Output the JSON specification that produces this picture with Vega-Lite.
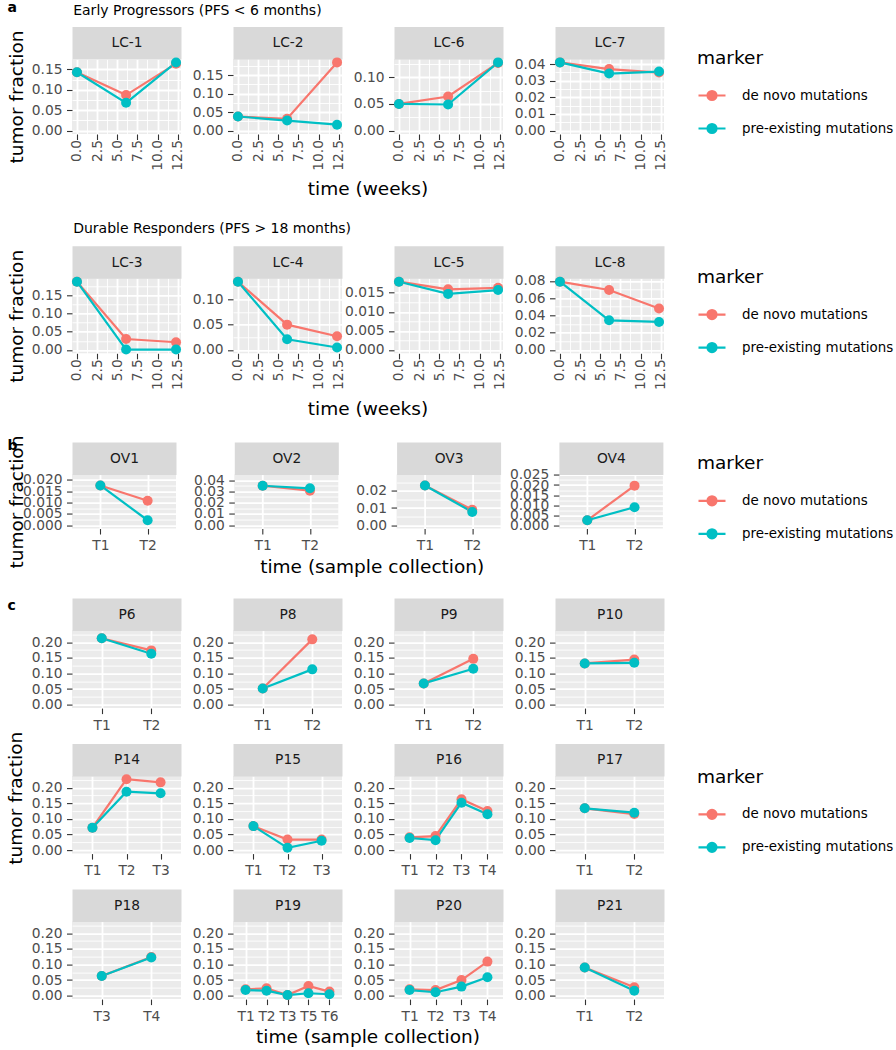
{
  "$schema": "https://vega.github.io/schema/vega-lite/v6.json",
  "padding": {"left": 7, "top": 0, "right": 2, "bottom": 0},
  "spacing": 22.3,
  "datasets": {
    "tf": [
      {"panel": "LC-1", "week": 0, "marker": "de novo mutations", "tf": 0.143},
      {"panel": "LC-1", "week": 6.1, "marker": "de novo mutations", "tf": 0.087},
      {"panel": "LC-1", "week": 12.3, "marker": "de novo mutations", "tf": 0.164},
      {"panel": "LC-1", "week": 0, "marker": "pre-existing mutations", "tf": 0.143},
      {"panel": "LC-1", "week": 6.1, "marker": "pre-existing mutations", "tf": 0.068},
      {"panel": "LC-1", "week": 12.3, "marker": "pre-existing mutations", "tf": 0.167},
      {"panel": "LC-2", "week": 0, "marker": "de novo mutations", "tf": 0.038},
      {"panel": "LC-2", "week": 6.1, "marker": "de novo mutations", "tf": 0.032},
      {"panel": "LC-2", "week": 12.3, "marker": "de novo mutations", "tf": 0.184},
      {"panel": "LC-2", "week": 0, "marker": "pre-existing mutations", "tf": 0.038},
      {"panel": "LC-2", "week": 6.1, "marker": "pre-existing mutations", "tf": 0.027},
      {"panel": "LC-2", "week": 12.3, "marker": "pre-existing mutations", "tf": 0.016},
      {"panel": "LC-6", "week": 0, "marker": "de novo mutations", "tf": 0.05},
      {"panel": "LC-6", "week": 6.1, "marker": "de novo mutations", "tf": 0.064},
      {"panel": "LC-6", "week": 12.3, "marker": "de novo mutations", "tf": 0.127},
      {"panel": "LC-6", "week": 0, "marker": "pre-existing mutations", "tf": 0.05},
      {"panel": "LC-6", "week": 6.1, "marker": "pre-existing mutations", "tf": 0.049},
      {"panel": "LC-6", "week": 12.3, "marker": "pre-existing mutations", "tf": 0.128},
      {"panel": "LC-7", "week": 0, "marker": "de novo mutations", "tf": 0.041},
      {"panel": "LC-7", "week": 6.1, "marker": "de novo mutations", "tf": 0.037},
      {"panel": "LC-7", "week": 12.3, "marker": "de novo mutations", "tf": 0.0349},
      {"panel": "LC-7", "week": 0, "marker": "pre-existing mutations", "tf": 0.041},
      {"panel": "LC-7", "week": 6.1, "marker": "pre-existing mutations", "tf": 0.0343},
      {"panel": "LC-7", "week": 12.3, "marker": "pre-existing mutations", "tf": 0.0355},
      {"panel": "LC-3", "week": 0, "marker": "de novo mutations", "tf": 0.188},
      {"panel": "LC-3", "week": 6.1, "marker": "de novo mutations", "tf": 0.03},
      {"panel": "LC-3", "week": 12.3, "marker": "de novo mutations", "tf": 0.021},
      {"panel": "LC-3", "week": 0, "marker": "pre-existing mutations", "tf": 0.188},
      {"panel": "LC-3", "week": 6.1, "marker": "pre-existing mutations", "tf": 0.001},
      {"panel": "LC-3", "week": 12.3, "marker": "pre-existing mutations", "tf": 0.001},
      {"panel": "LC-4", "week": 0, "marker": "de novo mutations", "tf": 0.135},
      {"panel": "LC-4", "week": 6.1, "marker": "de novo mutations", "tf": 0.05},
      {"panel": "LC-4", "week": 12.3, "marker": "de novo mutations", "tf": 0.027},
      {"panel": "LC-4", "week": 0, "marker": "pre-existing mutations", "tf": 0.135},
      {"panel": "LC-4", "week": 6.1, "marker": "pre-existing mutations", "tf": 0.021},
      {"panel": "LC-4", "week": 12.3, "marker": "pre-existing mutations", "tf": 0.0047},
      {"panel": "LC-5", "week": 0, "marker": "de novo mutations", "tf": 0.0179},
      {"panel": "LC-5", "week": 6.1, "marker": "de novo mutations", "tf": 0.0159},
      {"panel": "LC-5", "week": 12.3, "marker": "de novo mutations", "tf": 0.0163},
      {"panel": "LC-5", "week": 0, "marker": "pre-existing mutations", "tf": 0.0179},
      {"panel": "LC-5", "week": 6.1, "marker": "pre-existing mutations", "tf": 0.0147},
      {"panel": "LC-5", "week": 12.3, "marker": "pre-existing mutations", "tf": 0.0157},
      {"panel": "LC-8", "week": 0, "marker": "de novo mutations", "tf": 0.079},
      {"panel": "LC-8", "week": 6.1, "marker": "de novo mutations", "tf": 0.0694},
      {"panel": "LC-8", "week": 12.3, "marker": "de novo mutations", "tf": 0.048},
      {"panel": "LC-8", "week": 0, "marker": "pre-existing mutations", "tf": 0.079},
      {"panel": "LC-8", "week": 6.1, "marker": "pre-existing mutations", "tf": 0.0343},
      {"panel": "LC-8", "week": 12.3, "marker": "pre-existing mutations", "tf": 0.0324},
      {"panel": "OV1", "sample": "T1", "marker": "de novo mutations", "tf": 0.0175},
      {"panel": "OV1", "sample": "T2", "marker": "de novo mutations", "tf": 0.0108},
      {"panel": "OV1", "sample": "T1", "marker": "pre-existing mutations", "tf": 0.0175},
      {"panel": "OV1", "sample": "T2", "marker": "pre-existing mutations", "tf": 0.0022},
      {"panel": "OV2", "sample": "T1", "marker": "de novo mutations", "tf": 0.035},
      {"panel": "OV2", "sample": "T2", "marker": "de novo mutations", "tf": 0.0306},
      {"panel": "OV2", "sample": "T1", "marker": "pre-existing mutations", "tf": 0.035},
      {"panel": "OV2", "sample": "T2", "marker": "pre-existing mutations", "tf": 0.0327},
      {"panel": "OV3", "sample": "T1", "marker": "de novo mutations", "tf": 0.0231},
      {"panel": "OV3", "sample": "T2", "marker": "de novo mutations", "tf": 0.009},
      {"panel": "OV3", "sample": "T1", "marker": "pre-existing mutations", "tf": 0.0231},
      {"panel": "OV3", "sample": "T2", "marker": "pre-existing mutations", "tf": 0.0077},
      {"panel": "OV4", "sample": "T1", "marker": "de novo mutations", "tf": 0.0025},
      {"panel": "OV4", "sample": "T2", "marker": "de novo mutations", "tf": 0.0197},
      {"panel": "OV4", "sample": "T1", "marker": "pre-existing mutations", "tf": 0.0025},
      {"panel": "OV4", "sample": "T2", "marker": "pre-existing mutations", "tf": 0.009},
      {"panel": "P6", "sample": "T1", "marker": "de novo mutations", "tf": 0.2125},
      {"panel": "P6", "sample": "T2", "marker": "de novo mutations", "tf": 0.1737},
      {"panel": "P6", "sample": "T1", "marker": "pre-existing mutations", "tf": 0.2125},
      {"panel": "P6", "sample": "T2", "marker": "pre-existing mutations", "tf": 0.163},
      {"panel": "P8", "sample": "T1", "marker": "de novo mutations", "tf": 0.052},
      {"panel": "P8", "sample": "T2", "marker": "de novo mutations", "tf": 0.209},
      {"panel": "P8", "sample": "T1", "marker": "pre-existing mutations", "tf": 0.052},
      {"panel": "P8", "sample": "T2", "marker": "pre-existing mutations", "tf": 0.113},
      {"panel": "P9", "sample": "T1", "marker": "de novo mutations", "tf": 0.068},
      {"panel": "P9", "sample": "T2", "marker": "de novo mutations", "tf": 0.1466},
      {"panel": "P9", "sample": "T1", "marker": "pre-existing mutations", "tf": 0.068},
      {"panel": "P9", "sample": "T2", "marker": "pre-existing mutations", "tf": 0.115},
      {"panel": "P10", "sample": "T1", "marker": "de novo mutations", "tf": 0.132},
      {"panel": "P10", "sample": "T2", "marker": "de novo mutations", "tf": 0.1444},
      {"panel": "P10", "sample": "T1", "marker": "pre-existing mutations", "tf": 0.132},
      {"panel": "P10", "sample": "T2", "marker": "pre-existing mutations", "tf": 0.134},
      {"panel": "P14", "sample": "T1", "marker": "de novo mutations", "tf": 0.0717},
      {"panel": "P14", "sample": "T2", "marker": "de novo mutations", "tf": 0.227},
      {"panel": "P14", "sample": "T3", "marker": "de novo mutations", "tf": 0.217},
      {"panel": "P14", "sample": "T1", "marker": "pre-existing mutations", "tf": 0.0717},
      {"panel": "P14", "sample": "T2", "marker": "pre-existing mutations", "tf": 0.187},
      {"panel": "P14", "sample": "T3", "marker": "pre-existing mutations", "tf": 0.182},
      {"panel": "P15", "sample": "T1", "marker": "de novo mutations", "tf": 0.077},
      {"panel": "P15", "sample": "T2", "marker": "de novo mutations", "tf": 0.034},
      {"panel": "P15", "sample": "T3", "marker": "de novo mutations", "tf": 0.034},
      {"panel": "P15", "sample": "T1", "marker": "pre-existing mutations", "tf": 0.077},
      {"panel": "P15", "sample": "T2", "marker": "pre-existing mutations", "tf": 0.0075},
      {"panel": "P15", "sample": "T3", "marker": "pre-existing mutations", "tf": 0.03},
      {"panel": "P16", "sample": "T1", "marker": "de novo mutations", "tf": 0.041},
      {"panel": "P16", "sample": "T2", "marker": "de novo mutations", "tf": 0.045},
      {"panel": "P16", "sample": "T3", "marker": "de novo mutations", "tf": 0.163},
      {"panel": "P16", "sample": "T4", "marker": "de novo mutations", "tf": 0.125},
      {"panel": "P16", "sample": "T1", "marker": "pre-existing mutations", "tf": 0.039},
      {"panel": "P16", "sample": "T2", "marker": "pre-existing mutations", "tf": 0.032},
      {"panel": "P16", "sample": "T3", "marker": "pre-existing mutations", "tf": 0.152},
      {"panel": "P16", "sample": "T4", "marker": "pre-existing mutations", "tf": 0.115},
      {"panel": "P17", "sample": "T1", "marker": "de novo mutations", "tf": 0.134},
      {"panel": "P17", "sample": "T2", "marker": "de novo mutations", "tf": 0.1156},
      {"panel": "P17", "sample": "T1", "marker": "pre-existing mutations", "tf": 0.134},
      {"panel": "P17", "sample": "T2", "marker": "pre-existing mutations", "tf": 0.12},
      {"panel": "P18", "sample": "T3", "marker": "de novo mutations", "tf": 0.063},
      {"panel": "P18", "sample": "T4", "marker": "de novo mutations", "tf": 0.124},
      {"panel": "P18", "sample": "T3", "marker": "pre-existing mutations", "tf": 0.063},
      {"panel": "P18", "sample": "T4", "marker": "pre-existing mutations", "tf": 0.122},
      {"panel": "P19", "sample": "T1", "marker": "de novo mutations", "tf": 0.0205},
      {"panel": "P19", "sample": "T2", "marker": "de novo mutations", "tf": 0.0237},
      {"panel": "P19", "sample": "T3", "marker": "de novo mutations", "tf": 0.002},
      {"panel": "P19", "sample": "T5", "marker": "de novo mutations", "tf": 0.031},
      {"panel": "P19", "sample": "T6", "marker": "de novo mutations", "tf": 0.013},
      {"panel": "P19", "sample": "T1", "marker": "pre-existing mutations", "tf": 0.018},
      {"panel": "P19", "sample": "T2", "marker": "pre-existing mutations", "tf": 0.016},
      {"panel": "P19", "sample": "T3", "marker": "pre-existing mutations", "tf": 0.002},
      {"panel": "P19", "sample": "T5", "marker": "pre-existing mutations", "tf": 0.0077},
      {"panel": "P19", "sample": "T6", "marker": "pre-existing mutations", "tf": 0.0045},
      {"panel": "P20", "sample": "T1", "marker": "de novo mutations", "tf": 0.0205},
      {"panel": "P20", "sample": "T2", "marker": "de novo mutations", "tf": 0.018},
      {"panel": "P20", "sample": "T3", "marker": "de novo mutations", "tf": 0.05},
      {"panel": "P20", "sample": "T4", "marker": "de novo mutations", "tf": 0.109},
      {"panel": "P20", "sample": "T1", "marker": "pre-existing mutations", "tf": 0.018},
      {"panel": "P20", "sample": "T2", "marker": "pre-existing mutations", "tf": 0.0109},
      {"panel": "P20", "sample": "T3", "marker": "pre-existing mutations", "tf": 0.029},
      {"panel": "P20", "sample": "T4", "marker": "pre-existing mutations", "tf": 0.059},
      {"panel": "P21", "sample": "T1", "marker": "de novo mutations", "tf": 0.09},
      {"panel": "P21", "sample": "T2", "marker": "de novo mutations", "tf": 0.027},
      {"panel": "P21", "sample": "T1", "marker": "pre-existing mutations", "tf": 0.09},
      {"panel": "P21", "sample": "T2", "marker": "pre-existing mutations", "tf": 0.016}
    ]
  },
  "vconcat": [
    {
      "hconcat": [
        {
          "width": 109, "height": 75, "data": {"name": "tf"},
          "transform": [{"filter": "datum.panel === 'LC-1'"}],
          "layer": [
            {"mark": {"type": "line", "strokeWidth": 2.2},
             "encoding": {
               "x": {"field": "week", "type": "quantitative", "scale": {"domain": [-0.615, 12.915], "nice": false, "zero": false}, "axis": {"values": [0, 2.5, 5, 7.5, 10, 12.5], "format": ".1f", "labelAngle": -90, "labelPadding": 0, "title": null}},
               "y": {"field": "tf", "type": "quantitative", "scale": {"domain": [-0.0084, 0.1754], "nice": false, "zero": false}, "axis": {"values": [0, 0.05, 0.1, 0.15], "format": ".2f", "title": "tumor fraction", "titleX": -50, "titleBaseline": "alphabetic"}},
               "color": {"field": "marker", "type": "nominal", "scale": {"domain": ["de novo mutations", "pre-existing mutations"], "range": ["#F8766D", "#00BFC4"]}, "legend": {"orient": "none", "legendX": 625, "legendY": -10}}}},
            {"mark": {"type": "point", "filled": true, "size": 100, "opacity": 1},
             "encoding": {
               "x": {"field": "week", "type": "quantitative", "axis": {"orient": "top", "values": [1.25, 3.75, 6.25, 8.75, 11.25], "grid": true, "gridWidth": 0.9, "labels": false, "ticks": false, "domain": true, "domainColor": "#D9D9D9", "domainWidth": 32.5, "domainCap": "butt", "offset": 16.25, "title": "LC-1", "titleFontSize": 13.8, "titleColor": "#1A1A1A", "titleBaseline": "middle", "titleY": 0}},
               "y": {"field": "tf", "type": "quantitative", "axis": {"orient": "right", "values": [0.025, 0.075, 0.125, 0.175], "grid": true, "gridWidth": 0.9, "labels": false, "ticks": false, "domain": false, "title": "Early Progressors (PFS < 6 months)", "titleAngle": 0, "titleAlign": "left", "titleBaseline": "middle", "titleX": -108.3, "titleY": -49, "titleFontSize": 14}},
               "color": {"field": "marker", "type": "nominal"}}}
          ],
          "resolve": {"axis": {"x": "independent", "y": "independent"}}
        },
        {
          "width": 109, "height": 75, "data": {"name": "tf"},
          "transform": [{"filter": "datum.panel === 'LC-2'"}],
          "layer": [
            {"mark": {"type": "line", "strokeWidth": 2.2},
             "encoding": {
               "x": {"field": "week", "type": "quantitative", "scale": {"domain": [-0.615, 12.915], "nice": false, "zero": false}, "axis": {"values": [0, 2.5, 5, 7.5, 10, 12.5], "format": ".1f", "labelAngle": -90, "labelPadding": 0, "title": "time (weeks)", "titleX": 134.5, "titlePadding": 9.5}},
               "y": {"field": "tf", "type": "quantitative", "scale": {"domain": [-0.0092, 0.1932], "nice": false, "zero": false}, "axis": {"values": [0, 0.05, 0.1, 0.15], "format": ".2f", "title": null}},
               "color": {"field": "marker", "type": "nominal", "scale": {"domain": ["de novo mutations", "pre-existing mutations"], "range": ["#F8766D", "#00BFC4"]}}}},
            {"mark": {"type": "point", "filled": true, "size": 100, "opacity": 1},
             "encoding": {
               "x": {"field": "week", "type": "quantitative", "axis": {"orient": "top", "values": [1.25, 3.75, 6.25, 8.75, 11.25], "grid": true, "gridWidth": 0.9, "labels": false, "ticks": false, "domain": true, "domainColor": "#D9D9D9", "domainWidth": 32.5, "domainCap": "butt", "offset": 16.25, "title": "LC-2", "titleFontSize": 13.8, "titleColor": "#1A1A1A", "titleBaseline": "middle", "titleY": 0}},
               "y": {"field": "tf", "type": "quantitative", "axis": {"orient": "right", "values": [0.025, 0.075, 0.125, 0.175], "grid": true, "gridWidth": 0.9, "labels": false, "ticks": false, "domain": false, "title": "a", "titleAngle": 0, "titleAlign": "left", "titleBaseline": "alphabetic", "titleX": -335, "titleY": -48, "titleFontSize": 14, "titleFontWeight": "bold"}},
               "color": {"field": "marker", "type": "nominal"}}}
          ],
          "resolve": {"axis": {"x": "independent", "y": "independent"}}
        },
        {
          "width": 109, "height": 75, "data": {"name": "tf"},
          "transform": [{"filter": "datum.panel === 'LC-6'"}],
          "layer": [
            {"mark": {"type": "line", "strokeWidth": 2.2},
             "encoding": {
               "x": {"field": "week", "type": "quantitative", "scale": {"domain": [-0.615, 12.915], "nice": false, "zero": false}, "axis": {"values": [0, 2.5, 5, 7.5, 10, 12.5], "format": ".1f", "labelAngle": -90, "labelPadding": 0, "title": null}},
               "y": {"field": "tf", "type": "quantitative", "scale": {"domain": [-0.0064, 0.1344], "nice": false, "zero": false}, "axis": {"values": [0, 0.05, 0.1], "format": ".2f", "title": null}},
               "color": {"field": "marker", "type": "nominal", "scale": {"domain": ["de novo mutations", "pre-existing mutations"], "range": ["#F8766D", "#00BFC4"]}}}},
            {"mark": {"type": "point", "filled": true, "size": 100, "opacity": 1},
             "encoding": {
               "x": {"field": "week", "type": "quantitative", "axis": {"orient": "top", "values": [1.25, 3.75, 6.25, 8.75, 11.25], "grid": true, "gridWidth": 0.9, "labels": false, "ticks": false, "domain": true, "domainColor": "#D9D9D9", "domainWidth": 32.5, "domainCap": "butt", "offset": 16.25, "title": "LC-6", "titleFontSize": 13.8, "titleColor": "#1A1A1A", "titleBaseline": "middle", "titleY": 0}},
               "y": {"field": "tf", "type": "quantitative", "axis": {"orient": "right", "values": [0.025, 0.075, 0.125], "grid": true, "gridWidth": 0.9, "labels": false, "ticks": false, "domain": false, "title": null}},
               "color": {"field": "marker", "type": "nominal"}}}
          ],
          "resolve": {"axis": {"x": "independent", "y": "independent"}}
        },
        {
          "width": 109, "height": 75, "data": {"name": "tf"},
          "transform": [{"filter": "datum.panel === 'LC-7'"}],
          "layer": [
            {"mark": {"type": "line", "strokeWidth": 2.2},
             "encoding": {
               "x": {"field": "week", "type": "quantitative", "scale": {"domain": [-0.615, 12.915], "nice": false, "zero": false}, "axis": {"values": [0, 2.5, 5, 7.5, 10, 12.5], "format": ".1f", "labelAngle": -90, "labelPadding": 0, "title": null}},
               "y": {"field": "tf", "type": "quantitative", "scale": {"domain": [-0.00205, 0.04305], "nice": false, "zero": false}, "axis": {"values": [0, 0.01, 0.02, 0.03, 0.04], "format": ".2f", "title": null}},
               "color": {"field": "marker", "type": "nominal", "scale": {"domain": ["de novo mutations", "pre-existing mutations"], "range": ["#F8766D", "#00BFC4"]}}}},
            {"mark": {"type": "point", "filled": true, "size": 100, "opacity": 1},
             "encoding": {
               "x": {"field": "week", "type": "quantitative", "axis": {"orient": "top", "values": [1.25, 3.75, 6.25, 8.75, 11.25], "grid": true, "gridWidth": 0.9, "labels": false, "ticks": false, "domain": true, "domainColor": "#D9D9D9", "domainWidth": 32.5, "domainCap": "butt", "offset": 16.25, "title": "LC-7", "titleFontSize": 13.8, "titleColor": "#1A1A1A", "titleBaseline": "middle", "titleY": 0}},
               "y": {"field": "tf", "type": "quantitative", "axis": {"orient": "right", "values": [0.005, 0.015, 0.025, 0.035], "grid": true, "gridWidth": 0.9, "labels": false, "ticks": false, "domain": false, "title": null}},
               "color": {"field": "marker", "type": "nominal"}}}
          ],
          "resolve": {"axis": {"x": "independent", "y": "independent"}}
        }
      ],
      "spacing": 52, "bounds": "flush",
      "resolve": {"scale": {"x": "independent", "y": "independent"}}
    },
    {
      "vconcat": [
        {
          "hconcat": [
            {
              "width": 109, "height": 75, "data": {"name": "tf"},
              "transform": [{"filter": "datum.panel === 'LC-3'"}],
              "layer": [
                {"mark": {"type": "line", "strokeWidth": 2.2},
                 "encoding": {
                   "x": {"field": "week", "type": "quantitative", "scale": {"domain": [-0.615, 12.915], "nice": false, "zero": false}, "axis": {"values": [0, 2.5, 5, 7.5, 10, 12.5], "format": ".1f", "labelAngle": -90, "labelPadding": 0, "title": null}},
                   "y": {"field": "tf", "type": "quantitative", "scale": {"domain": [-0.0094, 0.1974], "nice": false, "zero": false}, "axis": {"values": [0, 0.05, 0.1, 0.15], "format": ".2f", "title": "tumor fraction", "titleX": -50, "titleBaseline": "alphabetic"}},
                   "color": {"field": "marker", "type": "nominal", "scale": {"domain": ["de novo mutations", "pre-existing mutations"], "range": ["#F8766D", "#00BFC4"]}, "legend": {"orient": "none", "legendX": 625, "legendY": -10.25}}}},
                {"mark": {"type": "point", "filled": true, "size": 100, "opacity": 1},
                 "encoding": {
                   "x": {"field": "week", "type": "quantitative", "axis": {"orient": "top", "values": [1.25, 3.75, 6.25, 8.75, 11.25], "grid": true, "gridWidth": 0.9, "labels": false, "ticks": false, "domain": true, "domainColor": "#D9D9D9", "domainWidth": 32.5, "domainCap": "butt", "offset": 16.25, "title": "LC-3", "titleFontSize": 13.8, "titleColor": "#1A1A1A", "titleBaseline": "middle", "titleY": 0}},
                   "y": {"field": "tf", "type": "quantitative", "axis": {"orient": "right", "values": [0.025, 0.075, 0.125, 0.175], "grid": true, "gridWidth": 0.9, "labels": false, "ticks": false, "domain": false, "title": "Durable Responders (PFS > 18 months)", "titleAngle": 0, "titleAlign": "left", "titleBaseline": "middle", "titleX": -108.3, "titleY": -50, "titleFontSize": 14}},
                   "color": {"field": "marker", "type": "nominal"}}}
              ],
              "resolve": {"axis": {"x": "independent", "y": "independent"}}
            },
            {
              "width": 109, "height": 75, "data": {"name": "tf"},
              "transform": [{"filter": "datum.panel === 'LC-4'"}],
              "layer": [
                {"mark": {"type": "line", "strokeWidth": 2.2},
                 "encoding": {
                   "x": {"field": "week", "type": "quantitative", "scale": {"domain": [-0.615, 12.915], "nice": false, "zero": false}, "axis": {"values": [0, 2.5, 5, 7.5, 10, 12.5], "format": ".1f", "labelAngle": -90, "labelPadding": 0, "title": "time (weeks)", "titleX": 134.5, "titlePadding": 9.5}},
                   "y": {"field": "tf", "type": "quantitative", "scale": {"domain": [-0.00675, 0.14175], "nice": false, "zero": false}, "axis": {"values": [0, 0.05, 0.1], "format": ".2f", "title": null}},
                   "color": {"field": "marker", "type": "nominal", "scale": {"domain": ["de novo mutations", "pre-existing mutations"], "range": ["#F8766D", "#00BFC4"]}}}},
                {"mark": {"type": "point", "filled": true, "size": 100, "opacity": 1},
                 "encoding": {
                   "x": {"field": "week", "type": "quantitative", "axis": {"orient": "top", "values": [1.25, 3.75, 6.25, 8.75, 11.25], "grid": true, "gridWidth": 0.9, "labels": false, "ticks": false, "domain": true, "domainColor": "#D9D9D9", "domainWidth": 32.5, "domainCap": "butt", "offset": 16.25, "title": "LC-4", "titleFontSize": 13.8, "titleColor": "#1A1A1A", "titleBaseline": "middle", "titleY": 0}},
                   "y": {"field": "tf", "type": "quantitative", "axis": {"orient": "right", "values": [0.025, 0.075, 0.125], "grid": true, "gridWidth": 0.9, "labels": false, "ticks": false, "domain": false, "title": null}},
                   "color": {"field": "marker", "type": "nominal"}}}
              ],
              "resolve": {"axis": {"x": "independent", "y": "independent"}}
            },
            {
              "width": 109, "height": 75, "data": {"name": "tf"},
              "transform": [{"filter": "datum.panel === 'LC-5'"}],
              "layer": [
                {"mark": {"type": "line", "strokeWidth": 2.2},
                 "encoding": {
                   "x": {"field": "week", "type": "quantitative", "scale": {"domain": [-0.615, 12.915], "nice": false, "zero": false}, "axis": {"values": [0, 2.5, 5, 7.5, 10, 12.5], "format": ".1f", "labelAngle": -90, "labelPadding": 0, "title": null}},
                   "y": {"field": "tf", "type": "quantitative", "scale": {"domain": [-0.000895, 0.018795], "nice": false, "zero": false}, "axis": {"values": [0, 0.005, 0.01, 0.015], "format": ".3f", "title": null}},
                   "color": {"field": "marker", "type": "nominal", "scale": {"domain": ["de novo mutations", "pre-existing mutations"], "range": ["#F8766D", "#00BFC4"]}}}},
                {"mark": {"type": "point", "filled": true, "size": 100, "opacity": 1},
                 "encoding": {
                   "x": {"field": "week", "type": "quantitative", "axis": {"orient": "top", "values": [1.25, 3.75, 6.25, 8.75, 11.25], "grid": true, "gridWidth": 0.9, "labels": false, "ticks": false, "domain": true, "domainColor": "#D9D9D9", "domainWidth": 32.5, "domainCap": "butt", "offset": 16.25, "title": "LC-5", "titleFontSize": 13.8, "titleColor": "#1A1A1A", "titleBaseline": "middle", "titleY": 0}},
                   "y": {"field": "tf", "type": "quantitative", "axis": {"orient": "right", "values": [0.0025, 0.0075, 0.0125, 0.0175], "grid": true, "gridWidth": 0.9, "labels": false, "ticks": false, "domain": false, "title": null}},
                   "color": {"field": "marker", "type": "nominal"}}}
              ],
              "resolve": {"axis": {"x": "independent", "y": "independent"}}
            },
            {
              "width": 109, "height": 75, "data": {"name": "tf"},
              "transform": [{"filter": "datum.panel === 'LC-8'"}],
              "layer": [
                {"mark": {"type": "line", "strokeWidth": 2.2},
                 "encoding": {
                   "x": {"field": "week", "type": "quantitative", "scale": {"domain": [-0.615, 12.915], "nice": false, "zero": false}, "axis": {"values": [0, 2.5, 5, 7.5, 10, 12.5], "format": ".1f", "labelAngle": -90, "labelPadding": 0, "title": null}},
                   "y": {"field": "tf", "type": "quantitative", "scale": {"domain": [-0.00395, 0.08295], "nice": false, "zero": false}, "axis": {"values": [0, 0.02, 0.04, 0.06, 0.08], "format": ".2f", "title": null}},
                   "color": {"field": "marker", "type": "nominal", "scale": {"domain": ["de novo mutations", "pre-existing mutations"], "range": ["#F8766D", "#00BFC4"]}}}},
                {"mark": {"type": "point", "filled": true, "size": 100, "opacity": 1},
                 "encoding": {
                   "x": {"field": "week", "type": "quantitative", "axis": {"orient": "top", "values": [1.25, 3.75, 6.25, 8.75, 11.25], "grid": true, "gridWidth": 0.9, "labels": false, "ticks": false, "domain": true, "domainColor": "#D9D9D9", "domainWidth": 32.5, "domainCap": "butt", "offset": 16.25, "title": "LC-8", "titleFontSize": 13.8, "titleColor": "#1A1A1A", "titleBaseline": "middle", "titleY": 0}},
                   "y": {"field": "tf", "type": "quantitative", "axis": {"orient": "right", "values": [0.01, 0.03, 0.05, 0.07], "grid": true, "gridWidth": 0.9, "labels": false, "ticks": false, "domain": false, "title": null}},
                   "color": {"field": "marker", "type": "nominal"}}}
              ],
              "resolve": {"axis": {"x": "independent", "y": "independent"}}
            }
          ],
          "spacing": 52, "bounds": "flush",
          "resolve": {"scale": {"x": "independent", "y": "independent"}}
        },
        {
          "hconcat": [
            {
              "width": 104, "height": 54, "data": {"name": "tf"},
              "transform": [{"filter": "datum.panel === 'OV1'"}],
              "layer": [
                {"mark": {"type": "line", "strokeWidth": 2.2},
                 "encoding": {
                   "x": {"field": "sample", "type": "nominal", "scale": {"type": "point", "padding": 0.6}, "axis": {"labelAngle": 0, "title": null}},
                   "y": {"field": "tf", "type": "quantitative", "scale": {"domain": [-0.00145, 0.0223], "nice": false, "zero": false}, "axis": {"values": [0, 0.005, 0.01, 0.015, 0.02], "format": ".3f", "title": "tumor fraction", "titleX": -50, "titleBaseline": "alphabetic"}},
                   "color": {"field": "marker", "type": "nominal", "scale": {"domain": ["de novo mutations", "pre-existing mutations"], "range": ["#F8766D", "#00BFC4"]}, "legend": {"orient": "none", "legendX": 625, "legendY": -20.25}}}},
                {"mark": {"type": "point", "filled": true, "size": 100, "opacity": 1},
                 "encoding": {
                   "x": {"field": "sample", "type": "nominal", "axis": {"orient": "top", "grid": false, "labels": false, "ticks": false, "domain": true, "domainColor": "#D9D9D9", "domainWidth": 32.5, "domainCap": "butt", "offset": 16.25, "title": "OV1", "titleFontSize": 13.8, "titleColor": "#1A1A1A", "titleBaseline": "middle", "titleY": 0}},
                   "y": {"field": "tf", "type": "quantitative", "axis": {"orient": "right", "values": [0.0025, 0.0075, 0.0125, 0.0175], "grid": true, "gridWidth": 0.9, "labels": false, "ticks": false, "domain": false, "title": "b", "titleAngle": 0, "titleAlign": "left", "titleBaseline": "alphabetic", "titleX": -169, "titleY": -25, "titleFontSize": 14, "titleFontWeight": "bold"}},
                   "color": {"field": "marker", "type": "nominal"}}}
              ],
              "resolve": {"axis": {"x": "independent", "y": "independent"}}
            },
            {
              "width": 104, "height": 54, "data": {"name": "tf"},
              "transform": [{"filter": "datum.panel === 'OV2'"}],
              "layer": [
                {"mark": {"type": "line", "strokeWidth": 2.2},
                 "encoding": {
                   "x": {"field": "sample", "type": "nominal", "scale": {"type": "point", "padding": 0.6}, "axis": {"labelAngle": 0, "title": "time (sample collection)", "titleX": 137.4}},
                   "y": {"field": "tf", "type": "quantitative", "scale": {"domain": [-0.0029, 0.0449], "nice": false, "zero": false}, "axis": {"values": [0, 0.01, 0.02, 0.03, 0.04], "format": ".2f", "title": null}},
                   "color": {"field": "marker", "type": "nominal", "scale": {"domain": ["de novo mutations", "pre-existing mutations"], "range": ["#F8766D", "#00BFC4"]}}}},
                {"mark": {"type": "point", "filled": true, "size": 100, "opacity": 1},
                 "encoding": {
                   "x": {"field": "sample", "type": "nominal", "axis": {"orient": "top", "grid": false, "labels": false, "ticks": false, "domain": true, "domainColor": "#D9D9D9", "domainWidth": 32.5, "domainCap": "butt", "offset": 16.25, "title": "OV2", "titleFontSize": 13.8, "titleColor": "#1A1A1A", "titleBaseline": "middle", "titleY": 0}},
                   "y": {"field": "tf", "type": "quantitative", "axis": {"orient": "right", "values": [0.005, 0.015, 0.025, 0.035], "grid": true, "gridWidth": 0.9, "labels": false, "ticks": false, "domain": false, "title": null}},
                   "color": {"field": "marker", "type": "nominal"}}}
              ],
              "resolve": {"axis": {"x": "independent", "y": "independent"}}
            },
            {
              "width": 104, "height": 54, "data": {"name": "tf"},
              "transform": [{"filter": "datum.panel === 'OV3'"}],
              "layer": [
                {"mark": {"type": "line", "strokeWidth": 2.2},
                 "encoding": {
                   "x": {"field": "sample", "type": "nominal", "scale": {"type": "point", "padding": 0.6}, "axis": {"labelAngle": 0, "title": null}},
                   "y": {"field": "tf", "type": "quantitative", "scale": {"domain": [-0.0019, 0.0294], "nice": false, "zero": false}, "axis": {"values": [0, 0.01, 0.02], "format": ".2f", "title": null}},
                   "color": {"field": "marker", "type": "nominal", "scale": {"domain": ["de novo mutations", "pre-existing mutations"], "range": ["#F8766D", "#00BFC4"]}}}},
                {"mark": {"type": "point", "filled": true, "size": 100, "opacity": 1},
                 "encoding": {
                   "x": {"field": "sample", "type": "nominal", "axis": {"orient": "top", "grid": false, "labels": false, "ticks": false, "domain": true, "domainColor": "#D9D9D9", "domainWidth": 32.5, "domainCap": "butt", "offset": 16.25, "title": "OV3", "titleFontSize": 13.8, "titleColor": "#1A1A1A", "titleBaseline": "middle", "titleY": 0}},
                   "y": {"field": "tf", "type": "quantitative", "axis": {"orient": "right", "values": [0.005, 0.015, 0.025], "grid": true, "gridWidth": 0.9, "labels": false, "ticks": false, "domain": false, "title": null}},
                   "color": {"field": "marker", "type": "nominal"}}}
              ],
              "resolve": {"axis": {"x": "independent", "y": "independent"}}
            },
            {
              "width": 104, "height": 54, "data": {"name": "tf"},
              "transform": [{"filter": "datum.panel === 'OV4'"}],
              "layer": [
                {"mark": {"type": "line", "strokeWidth": 2.2},
                 "encoding": {
                   "x": {"field": "sample", "type": "nominal", "scale": {"type": "point", "padding": 0.6}, "axis": {"labelAngle": 0, "title": null}},
                   "y": {"field": "tf", "type": "quantitative", "scale": {"domain": [-0.0016, 0.0252], "nice": false, "zero": false}, "axis": {"values": [0, 0.005, 0.01, 0.015, 0.02, 0.025], "format": ".3f", "title": null}},
                   "color": {"field": "marker", "type": "nominal", "scale": {"domain": ["de novo mutations", "pre-existing mutations"], "range": ["#F8766D", "#00BFC4"]}}}},
                {"mark": {"type": "point", "filled": true, "size": 100, "opacity": 1},
                 "encoding": {
                   "x": {"field": "sample", "type": "nominal", "axis": {"orient": "top", "grid": false, "labels": false, "ticks": false, "domain": true, "domainColor": "#D9D9D9", "domainWidth": 32.5, "domainCap": "butt", "offset": 16.25, "title": "OV4", "titleFontSize": 13.8, "titleColor": "#1A1A1A", "titleBaseline": "middle", "titleY": 0}},
                   "y": {"field": "tf", "type": "quantitative", "axis": {"orient": "right", "values": [0.0025, 0.0075, 0.0125, 0.0175, 0.0225], "grid": true, "gridWidth": 0.9, "labels": false, "ticks": false, "domain": false, "title": null}},
                   "color": {"field": "marker", "type": "nominal"}}}
              ],
              "resolve": {"axis": {"x": "independent", "y": "independent"}}
            }
          ],
          "spacing": 58.3, "bounds": "flush",
          "resolve": {"scale": {"x": "independent", "y": "independent"}}
        }
      ],
      "spacing": 16.25,
      "resolve": {"scale": {"x": "independent", "y": "independent", "color": "independent"}, "legend": {"color": "independent"}}
    },
    {
      "vconcat": [
        {
          "hconcat": [
            {
              "width": 109, "height": 77.5, "data": {"name": "tf"},
              "transform": [{"filter": "datum.panel === 'P6'"}],
              "layer": [
                {"mark": {"type": "line", "strokeWidth": 2.2},
                 "encoding": {
                   "x": {"field": "sample", "type": "nominal", "scale": {"type": "point", "padding": 0.6}, "axis": {"labelAngle": 0, "title": null}},
                   "y": {"field": "tf", "type": "quantitative", "scale": {"domain": [-0.011, 0.237], "nice": false, "zero": false}, "axis": {"values": [0, 0.05, 0.1, 0.15, 0.2], "format": ".2f", "title": null}},
                   "color": {"field": "marker", "type": "nominal", "scale": {"domain": ["de novo mutations", "pre-existing mutations"], "range": ["#F8766D", "#00BFC4"]}, "legend": null}}},
                {"mark": {"type": "point", "filled": true, "size": 100, "opacity": 1},
                 "encoding": {
                   "x": {"field": "sample", "type": "nominal", "axis": {"orient": "top", "grid": false, "labels": false, "ticks": false, "domain": true, "domainColor": "#D9D9D9", "domainWidth": 32.5, "domainCap": "butt", "offset": 16.25, "title": "P6", "titleFontSize": 13.8, "titleColor": "#1A1A1A", "titleBaseline": "middle", "titleY": 0}},
                   "y": {"field": "tf", "type": "quantitative", "axis": {"orient": "right", "values": [0.025, 0.075, 0.125, 0.175, 0.225], "grid": true, "gridWidth": 0.9, "labels": false, "ticks": false, "domain": false, "title": "c", "titleAngle": 0, "titleAlign": "left", "titleBaseline": "alphabetic", "titleX": -174, "titleY": -21, "titleFontSize": 14, "titleFontWeight": "bold"}},
                   "color": {"field": "marker", "type": "nominal", "legend": null}}}
              ],
              "resolve": {"axis": {"x": "independent", "y": "independent"}}
            },
            {
              "width": 109, "height": 77.5, "data": {"name": "tf"},
              "transform": [{"filter": "datum.panel === 'P8'"}],
              "layer": [
                {"mark": {"type": "line", "strokeWidth": 2.2},
                 "encoding": {
                   "x": {"field": "sample", "type": "nominal", "scale": {"type": "point", "padding": 0.6}, "axis": {"labelAngle": 0, "title": null}},
                   "y": {"field": "tf", "type": "quantitative", "scale": {"domain": [-0.011, 0.237], "nice": false, "zero": false}, "axis": {"values": [0, 0.05, 0.1, 0.15, 0.2], "format": ".2f", "title": null}},
                   "color": {"field": "marker", "type": "nominal", "scale": {"domain": ["de novo mutations", "pre-existing mutations"], "range": ["#F8766D", "#00BFC4"]}, "legend": null}}},
                {"mark": {"type": "point", "filled": true, "size": 100, "opacity": 1},
                 "encoding": {
                   "x": {"field": "sample", "type": "nominal", "axis": {"orient": "top", "grid": false, "labels": false, "ticks": false, "domain": true, "domainColor": "#D9D9D9", "domainWidth": 32.5, "domainCap": "butt", "offset": 16.25, "title": "P8", "titleFontSize": 13.8, "titleColor": "#1A1A1A", "titleBaseline": "middle", "titleY": 0}},
                   "y": {"field": "tf", "type": "quantitative", "axis": {"orient": "right", "values": [0.025, 0.075, 0.125, 0.175, 0.225], "grid": true, "gridWidth": 0.9, "labels": false, "ticks": false, "domain": false, "title": null}},
                   "color": {"field": "marker", "type": "nominal", "legend": null}}}
              ],
              "resolve": {"axis": {"x": "independent", "y": "independent"}}
            },
            {
              "width": 109, "height": 77.5, "data": {"name": "tf"},
              "transform": [{"filter": "datum.panel === 'P9'"}],
              "layer": [
                {"mark": {"type": "line", "strokeWidth": 2.2},
                 "encoding": {
                   "x": {"field": "sample", "type": "nominal", "scale": {"type": "point", "padding": 0.6}, "axis": {"labelAngle": 0, "title": null}},
                   "y": {"field": "tf", "type": "quantitative", "scale": {"domain": [-0.011, 0.237], "nice": false, "zero": false}, "axis": {"values": [0, 0.05, 0.1, 0.15, 0.2], "format": ".2f", "title": null}},
                   "color": {"field": "marker", "type": "nominal", "scale": {"domain": ["de novo mutations", "pre-existing mutations"], "range": ["#F8766D", "#00BFC4"]}, "legend": null}}},
                {"mark": {"type": "point", "filled": true, "size": 100, "opacity": 1},
                 "encoding": {
                   "x": {"field": "sample", "type": "nominal", "axis": {"orient": "top", "grid": false, "labels": false, "ticks": false, "domain": true, "domainColor": "#D9D9D9", "domainWidth": 32.5, "domainCap": "butt", "offset": 16.25, "title": "P9", "titleFontSize": 13.8, "titleColor": "#1A1A1A", "titleBaseline": "middle", "titleY": 0}},
                   "y": {"field": "tf", "type": "quantitative", "axis": {"orient": "right", "values": [0.025, 0.075, 0.125, 0.175, 0.225], "grid": true, "gridWidth": 0.9, "labels": false, "ticks": false, "domain": false, "title": null}},
                   "color": {"field": "marker", "type": "nominal", "legend": null}}}
              ],
              "resolve": {"axis": {"x": "independent", "y": "independent"}}
            },
            {
              "width": 109, "height": 77.5, "data": {"name": "tf"},
              "transform": [{"filter": "datum.panel === 'P10'"}],
              "layer": [
                {"mark": {"type": "line", "strokeWidth": 2.2},
                 "encoding": {
                   "x": {"field": "sample", "type": "nominal", "scale": {"type": "point", "padding": 0.6}, "axis": {"labelAngle": 0, "title": null}},
                   "y": {"field": "tf", "type": "quantitative", "scale": {"domain": [-0.011, 0.237], "nice": false, "zero": false}, "axis": {"values": [0, 0.05, 0.1, 0.15, 0.2], "format": ".2f", "title": null}},
                   "color": {"field": "marker", "type": "nominal", "scale": {"domain": ["de novo mutations", "pre-existing mutations"], "range": ["#F8766D", "#00BFC4"]}, "legend": null}}},
                {"mark": {"type": "point", "filled": true, "size": 100, "opacity": 1},
                 "encoding": {
                   "x": {"field": "sample", "type": "nominal", "axis": {"orient": "top", "grid": false, "labels": false, "ticks": false, "domain": true, "domainColor": "#D9D9D9", "domainWidth": 32.5, "domainCap": "butt", "offset": 16.25, "title": "P10", "titleFontSize": 13.8, "titleColor": "#1A1A1A", "titleBaseline": "middle", "titleY": 0}},
                   "y": {"field": "tf", "type": "quantitative", "axis": {"orient": "right", "values": [0.025, 0.075, 0.125, 0.175, 0.225], "grid": true, "gridWidth": 0.9, "labels": false, "ticks": false, "domain": false, "title": null}},
                   "color": {"field": "marker", "type": "nominal", "legend": null}}}
              ],
              "resolve": {"axis": {"x": "independent", "y": "independent"}}
            }
          ],
          "spacing": 52, "bounds": "flush",
          "resolve": {"scale": {"x": "independent", "y": "independent"}}
        },
        {
          "hconcat": [
            {
              "width": 109, "height": 77.5, "data": {"name": "tf"},
              "transform": [{"filter": "datum.panel === 'P14'"}],
              "layer": [
                {"mark": {"type": "line", "strokeWidth": 2.2},
                 "encoding": {
                   "x": {"field": "sample", "type": "nominal", "scale": {"type": "point", "padding": 0.6}, "axis": {"labelAngle": 0, "title": null}},
                   "y": {"field": "tf", "type": "quantitative", "scale": {"domain": [-0.011, 0.237], "nice": false, "zero": false}, "axis": {"values": [0, 0.05, 0.1, 0.15, 0.2], "format": ".2f", "title": null}},
                   "color": {"field": "marker", "type": "nominal", "scale": {"domain": ["de novo mutations", "pre-existing mutations"], "range": ["#F8766D", "#00BFC4"]}, "legend": {"orient": "none", "legendX": 625, "legendY": -8.25}}}},
                {"mark": {"type": "point", "filled": true, "size": 100, "opacity": 1},
                 "encoding": {
                   "x": {"field": "sample", "type": "nominal", "axis": {"orient": "top", "grid": false, "labels": false, "ticks": false, "domain": true, "domainColor": "#D9D9D9", "domainWidth": 32.5, "domainCap": "butt", "offset": 16.25, "title": "P14", "titleFontSize": 13.8, "titleColor": "#1A1A1A", "titleBaseline": "middle", "titleY": 0}},
                   "y": {"field": "tf", "type": "quantitative", "axis": {"orient": "right", "values": [0.025, 0.075, 0.125, 0.175, 0.225], "grid": true, "gridWidth": 0.9, "labels": false, "ticks": false, "domain": false, "title": null}},
                   "color": {"field": "marker", "type": "nominal"}}}
              ],
              "resolve": {"axis": {"x": "independent", "y": "independent"}}
            },
            {
              "width": 109, "height": 77.5, "data": {"name": "tf"},
              "transform": [{"filter": "datum.panel === 'P15'"}],
              "layer": [
                {"mark": {"type": "line", "strokeWidth": 2.2},
                 "encoding": {
                   "x": {"field": "sample", "type": "nominal", "scale": {"type": "point", "padding": 0.6}, "axis": {"labelAngle": 0, "title": null}},
                   "y": {"field": "tf", "type": "quantitative", "scale": {"domain": [-0.011, 0.237], "nice": false, "zero": false}, "axis": {"values": [0, 0.05, 0.1, 0.15, 0.2], "format": ".2f", "title": null}},
                   "color": {"field": "marker", "type": "nominal", "scale": {"domain": ["de novo mutations", "pre-existing mutations"], "range": ["#F8766D", "#00BFC4"]}}}},
                {"mark": {"type": "point", "filled": true, "size": 100, "opacity": 1},
                 "encoding": {
                   "x": {"field": "sample", "type": "nominal", "axis": {"orient": "top", "grid": false, "labels": false, "ticks": false, "domain": true, "domainColor": "#D9D9D9", "domainWidth": 32.5, "domainCap": "butt", "offset": 16.25, "title": "P15", "titleFontSize": 13.8, "titleColor": "#1A1A1A", "titleBaseline": "middle", "titleY": 0}},
                   "y": {"field": "tf", "type": "quantitative", "axis": {"orient": "right", "values": [0.025, 0.075, 0.125, 0.175, 0.225], "grid": true, "gridWidth": 0.9, "labels": false, "ticks": false, "domain": false, "title": null}},
                   "color": {"field": "marker", "type": "nominal"}}}
              ],
              "resolve": {"axis": {"x": "independent", "y": "independent"}}
            },
            {
              "width": 109, "height": 77.5, "data": {"name": "tf"},
              "transform": [{"filter": "datum.panel === 'P16'"}],
              "layer": [
                {"mark": {"type": "line", "strokeWidth": 2.2},
                 "encoding": {
                   "x": {"field": "sample", "type": "nominal", "scale": {"type": "point", "padding": 0.6}, "axis": {"labelAngle": 0, "title": null}},
                   "y": {"field": "tf", "type": "quantitative", "scale": {"domain": [-0.011, 0.237], "nice": false, "zero": false}, "axis": {"values": [0, 0.05, 0.1, 0.15, 0.2], "format": ".2f", "title": null}},
                   "color": {"field": "marker", "type": "nominal", "scale": {"domain": ["de novo mutations", "pre-existing mutations"], "range": ["#F8766D", "#00BFC4"]}}}},
                {"mark": {"type": "point", "filled": true, "size": 100, "opacity": 1},
                 "encoding": {
                   "x": {"field": "sample", "type": "nominal", "axis": {"orient": "top", "grid": false, "labels": false, "ticks": false, "domain": true, "domainColor": "#D9D9D9", "domainWidth": 32.5, "domainCap": "butt", "offset": 16.25, "title": "P16", "titleFontSize": 13.8, "titleColor": "#1A1A1A", "titleBaseline": "middle", "titleY": 0}},
                   "y": {"field": "tf", "type": "quantitative", "axis": {"orient": "right", "values": [0.025, 0.075, 0.125, 0.175, 0.225], "grid": true, "gridWidth": 0.9, "labels": false, "ticks": false, "domain": false, "title": null}},
                   "color": {"field": "marker", "type": "nominal"}}}
              ],
              "resolve": {"axis": {"x": "independent", "y": "independent"}}
            },
            {
              "width": 109, "height": 77.5, "data": {"name": "tf"},
              "transform": [{"filter": "datum.panel === 'P17'"}],
              "layer": [
                {"mark": {"type": "line", "strokeWidth": 2.2},
                 "encoding": {
                   "x": {"field": "sample", "type": "nominal", "scale": {"type": "point", "padding": 0.6}, "axis": {"labelAngle": 0, "title": null}},
                   "y": {"field": "tf", "type": "quantitative", "scale": {"domain": [-0.011, 0.237], "nice": false, "zero": false}, "axis": {"values": [0, 0.05, 0.1, 0.15, 0.2], "format": ".2f", "title": null}},
                   "color": {"field": "marker", "type": "nominal", "scale": {"domain": ["de novo mutations", "pre-existing mutations"], "range": ["#F8766D", "#00BFC4"]}}}},
                {"mark": {"type": "point", "filled": true, "size": 100, "opacity": 1},
                 "encoding": {
                   "x": {"field": "sample", "type": "nominal", "axis": {"orient": "top", "grid": false, "labels": false, "ticks": false, "domain": true, "domainColor": "#D9D9D9", "domainWidth": 32.5, "domainCap": "butt", "offset": 16.25, "title": "P17", "titleFontSize": 13.8, "titleColor": "#1A1A1A", "titleBaseline": "middle", "titleY": 0}},
                   "y": {"field": "tf", "type": "quantitative", "axis": {"orient": "right", "values": [0.025, 0.075, 0.125, 0.175, 0.225], "grid": true, "gridWidth": 0.9, "labels": false, "ticks": false, "domain": false, "title": null}},
                   "color": {"field": "marker", "type": "nominal"}}}
              ],
              "resolve": {"axis": {"x": "independent", "y": "independent"}}
            }
          ],
          "spacing": 52, "bounds": "flush",
          "resolve": {"scale": {"x": "independent", "y": "independent"}}
        },
        {
          "hconcat": [
            {
              "width": 109, "height": 77.5, "data": {"name": "tf"},
              "transform": [{"filter": "datum.panel === 'P18'"}],
              "layer": [
                {"mark": {"type": "line", "strokeWidth": 2.2},
                 "encoding": {
                   "x": {"field": "sample", "type": "nominal", "scale": {"type": "point", "padding": 0.6}, "axis": {"labelAngle": 0, "title": null}},
                   "y": {"field": "tf", "type": "quantitative", "scale": {"domain": [-0.011, 0.237], "nice": false, "zero": false}, "axis": {"values": [0, 0.05, 0.1, 0.15, 0.2], "format": ".2f", "title": null}},
                   "color": {"field": "marker", "type": "nominal", "scale": {"domain": ["de novo mutations", "pre-existing mutations"], "range": ["#F8766D", "#00BFC4"]}, "legend": null}}},
                {"mark": {"type": "point", "filled": true, "size": 100, "opacity": 1},
                 "encoding": {
                   "x": {"field": "sample", "type": "nominal", "axis": {"orient": "top", "grid": false, "labels": false, "ticks": false, "domain": true, "domainColor": "#D9D9D9", "domainWidth": 32.5, "domainCap": "butt", "offset": 16.25, "title": "P18", "titleFontSize": 13.8, "titleColor": "#1A1A1A", "titleBaseline": "middle", "titleY": 0}},
                   "y": {"field": "tf", "type": "quantitative", "axis": {"orient": "right", "values": [0.025, 0.075, 0.125, 0.175, 0.225], "grid": true, "gridWidth": 0.9, "labels": false, "ticks": false, "domain": false, "title": null}},
                   "color": {"field": "marker", "type": "nominal", "legend": null}}}
              ],
              "resolve": {"axis": {"x": "independent", "y": "independent"}}
            },
            {
              "width": 109, "height": 77.5, "data": {"name": "tf"},
              "transform": [{"filter": "datum.panel === 'P19'"}],
              "layer": [
                {"mark": {"type": "line", "strokeWidth": 2.2},
                 "encoding": {
                   "x": {"field": "sample", "type": "nominal", "scale": {"type": "point", "padding": 0.6}, "axis": {"labelAngle": 0, "title": "time (sample collection)", "titleX": 134.5}},
                   "y": {"field": "tf", "type": "quantitative", "scale": {"domain": [-0.011, 0.237], "nice": false, "zero": false}, "axis": {"values": [0, 0.05, 0.1, 0.15, 0.2], "format": ".2f", "title": null}},
                   "color": {"field": "marker", "type": "nominal", "scale": {"domain": ["de novo mutations", "pre-existing mutations"], "range": ["#F8766D", "#00BFC4"]}, "legend": null}}},
                {"mark": {"type": "point", "filled": true, "size": 100, "opacity": 1},
                 "encoding": {
                   "x": {"field": "sample", "type": "nominal", "axis": {"orient": "top", "grid": false, "labels": false, "ticks": false, "domain": true, "domainColor": "#D9D9D9", "domainWidth": 32.5, "domainCap": "butt", "offset": 16.25, "title": "P19", "titleFontSize": 13.8, "titleColor": "#1A1A1A", "titleBaseline": "middle", "titleY": 0}},
                   "y": {"field": "tf", "type": "quantitative", "axis": {"orient": "right", "values": [0.025, 0.075, 0.125, 0.175, 0.225], "grid": true, "gridWidth": 0.9, "labels": false, "ticks": false, "domain": false, "title": null}},
                   "color": {"field": "marker", "type": "nominal", "legend": null}}}
              ],
              "resolve": {"axis": {"x": "independent", "y": "independent"}}
            },
            {
              "width": 109, "height": 77.5, "data": {"name": "tf"},
              "transform": [{"filter": "datum.panel === 'P20'"}],
              "layer": [
                {"mark": {"type": "line", "strokeWidth": 2.2},
                 "encoding": {
                   "x": {"field": "sample", "type": "nominal", "scale": {"type": "point", "padding": 0.6}, "axis": {"labelAngle": 0, "title": null}},
                   "y": {"field": "tf", "type": "quantitative", "scale": {"domain": [-0.011, 0.237], "nice": false, "zero": false}, "axis": {"values": [0, 0.05, 0.1, 0.15, 0.2], "format": ".2f", "title": null}},
                   "color": {"field": "marker", "type": "nominal", "scale": {"domain": ["de novo mutations", "pre-existing mutations"], "range": ["#F8766D", "#00BFC4"]}, "legend": null}}},
                {"mark": {"type": "point", "filled": true, "size": 100, "opacity": 1},
                 "encoding": {
                   "x": {"field": "sample", "type": "nominal", "axis": {"orient": "top", "grid": false, "labels": false, "ticks": false, "domain": true, "domainColor": "#D9D9D9", "domainWidth": 32.5, "domainCap": "butt", "offset": 16.25, "title": "P20", "titleFontSize": 13.8, "titleColor": "#1A1A1A", "titleBaseline": "middle", "titleY": 0}},
                   "y": {"field": "tf", "type": "quantitative", "axis": {"orient": "right", "values": [0.025, 0.075, 0.125, 0.175, 0.225], "grid": true, "gridWidth": 0.9, "labels": false, "ticks": false, "domain": false, "title": null}},
                   "color": {"field": "marker", "type": "nominal", "legend": null}}}
              ],
              "resolve": {"axis": {"x": "independent", "y": "independent"}}
            },
            {
              "width": 109, "height": 77.5, "data": {"name": "tf"},
              "transform": [{"filter": "datum.panel === 'P21'"}],
              "layer": [
                {"mark": {"type": "line", "strokeWidth": 2.2},
                 "encoding": {
                   "x": {"field": "sample", "type": "nominal", "scale": {"type": "point", "padding": 0.6}, "axis": {"labelAngle": 0, "title": null}},
                   "y": {"field": "tf", "type": "quantitative", "scale": {"domain": [-0.011, 0.237], "nice": false, "zero": false}, "axis": {"values": [0, 0.05, 0.1, 0.15, 0.2], "format": ".2f", "title": null}},
                   "color": {"field": "marker", "type": "nominal", "scale": {"domain": ["de novo mutations", "pre-existing mutations"], "range": ["#F8766D", "#00BFC4"]}, "legend": null}}},
                {"mark": {"type": "point", "filled": true, "size": 100, "opacity": 1},
                 "encoding": {
                   "x": {"field": "sample", "type": "nominal", "axis": {"orient": "top", "grid": false, "labels": false, "ticks": false, "domain": true, "domainColor": "#D9D9D9", "domainWidth": 32.5, "domainCap": "butt", "offset": 16.25, "title": "P21", "titleFontSize": 13.8, "titleColor": "#1A1A1A", "titleBaseline": "middle", "titleY": 0}},
                   "y": {"field": "tf", "type": "quantitative", "axis": {"orient": "right", "values": [0.025, 0.075, 0.125, 0.175, 0.225], "grid": true, "gridWidth": 0.9, "labels": false, "ticks": false, "domain": false, "title": null}},
                   "color": {"field": "marker", "type": "nominal", "legend": null}}}
              ],
              "resolve": {"axis": {"x": "independent", "y": "independent"}}
            }
          ],
          "spacing": 52, "bounds": "flush",
          "resolve": {"scale": {"x": "independent", "y": "independent"}}
        }
      ],
      "spacing": 19.5,
      "title": {"text": "tumor fraction", "orient": "left", "anchor": "middle", "fontSize": 18.5, "fontWeight": "normal", "font": "DejaVu Sans", "color": "#000000", "offset": -18.7, "dx": 24.3},
      "resolve": {"scale": {"x": "independent", "y": "independent", "color": "independent"}, "legend": {"color": "independent"}}
    }
  ],
  "resolve": {"scale": {"x": "independent", "y": "independent", "color": "independent"}, "legend": {"color": "independent"}},
  "config": {
    "font": "DejaVu Sans",
    "view": {"stroke": null, "fill": "#EBEBEB"},
    "axis": {"labelFont": "DejaVu Sans", "labelFontSize": 13.8, "labelColor": "#4D4D4D", "tickColor": "#333333", "tickWidth": 1.1, "tickSize": 5.5, "domain": false, "grid": true, "gridColor": "#FFFFFF", "gridWidth": 1.8, "gridOpacity": 1, "titleFont": "DejaVu Sans", "titleFontSize": 18.5, "titleFontWeight": "normal", "titleColor": "#000000", "labelOverlap": false, "labelFlush": false},
    "axisX": {"labelPadding": 4.5, "titlePadding": 5},
    "axisY": {"labelPadding": 4.5},
    "legend": {"titleFont": "DejaVu Sans", "titleFontSize": 18.5, "titleFontWeight": "normal", "titleColor": "#000000", "titlePadding": 13, "labelFont": "DejaVu Sans", "labelFontSize": 13.4, "labelColor": "#000000", "labelOffset": 15, "labelLimit": 250, "symbolType": "M-1,0L1,0M0.333,0A0.333,0.333,0,1,1,-0.333,0A0.333,0.333,0,1,1,0.333,0Z", "symbolSize": 729, "symbolStrokeWidth": 2.2, "rowPadding": 9, "padding": 0, "symbolOpacity": 1}
  }
}
